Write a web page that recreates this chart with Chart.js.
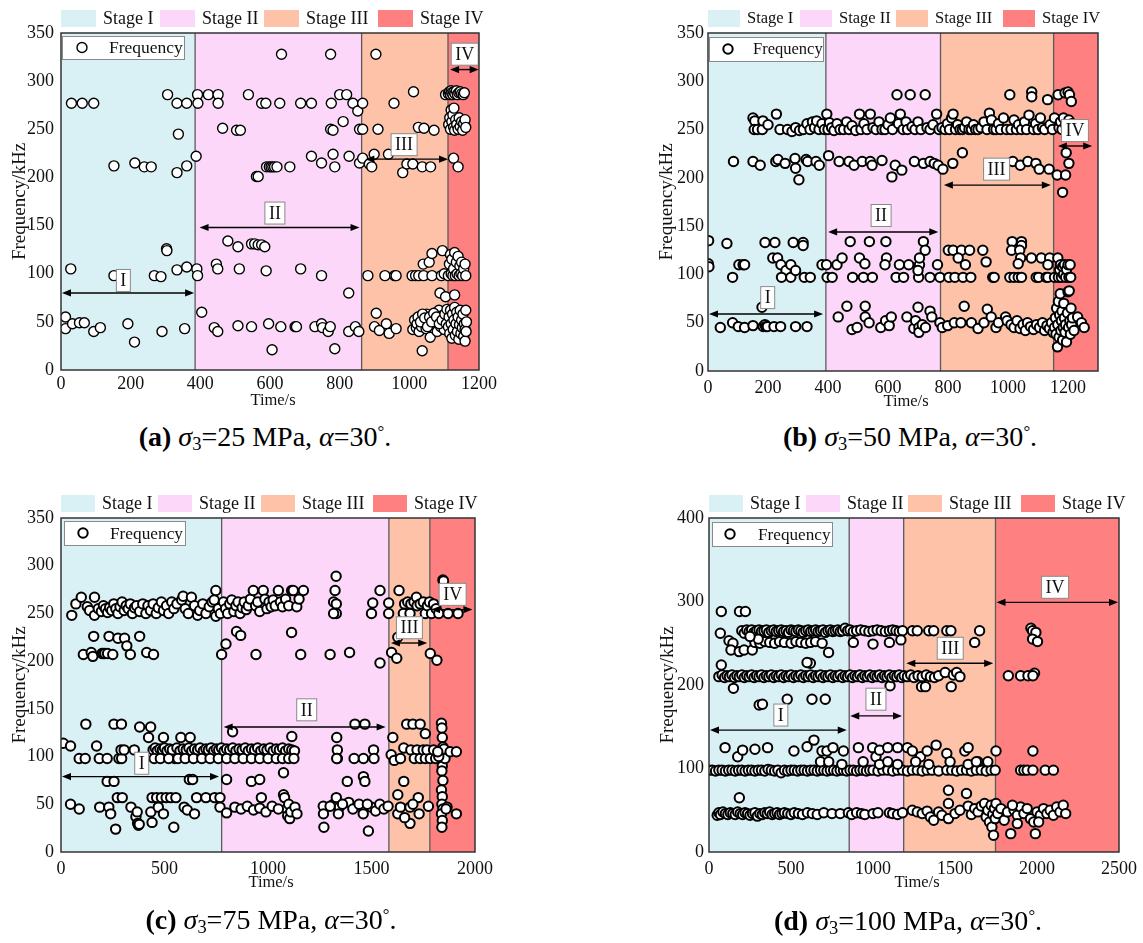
<!DOCTYPE html>
<html><head><meta charset="utf-8">
<script src="https://cdn.jsdelivr.net/npm/chart.js@4.4.0/dist/chart.umd.min.js"></script>
<style>
html,body{margin:0;padding:0;background:#fff;}
body{width:1143px;height:943px;position:relative;overflow:hidden;font-family:"Liberation Serif","Times New Roman",serif;}
canvas{position:absolute;}
.cap{position:absolute;font-size:28px;line-height:32px;color:#000;white-space:nowrap;text-align:center;}
.cap sub{font-size:0.66em;line-height:0;vertical-align:-0.22em;}
.cap sup{font-size:0.6em;line-height:0;vertical-align:0.55em;}
</style></head><body>
<canvas id="ca"></canvas><canvas id="cb"></canvas><canvas id="cc"></canvas><canvas id="cd"></canvas>
<div class="cap" id="capA"></div><div class="cap" id="capB"></div><div class="cap" id="capC"></div><div class="cap" id="capD"></div>
<script>
// ---------------- DATA ----------------
const stageNames = ['Stage I','Stage II','Stage III','Stage IV'];
const arrowLabels = ['I','II','III','IV'];
const captionLetters = ['(a)','(b)','(c)','(d)'];
const sigma3Values = [25,50,75,100];
const alphaValue = 30;

const xTicksA = [0,200,400,600,800,1000,1200];
const xTicksB = [0,200,400,600,800,1000,1200];
const xTicksC = [0,500,1000,1500,2000];
const xTicksD = [0,500,1000,1500,2000,2500];
const yTicksABC = [0,50,100,150,200,250,300,350];
const yTicksD = [0,100,200,300,400];

// stage boundaries (Time/s)
const stagesA = [0,385,863,1111,1200];
const stagesB = [0,393,775,1152,1300];
const stagesC = [0,776,1584,1782,2000];
const stagesD = [0,855,1187,1747,2500];

// arrows: [start, end, frequency, labelTime, labelFreq]
const arrowsA = [[0,385,80,179,93],[395,860,148,614,163],[871,1114,219,985,234],[1114,1202,312,1159,328]];
const arrowsB = [[0,387,59,199,76],[397,771,144,577,161],[783,1146,192.5,962,209],[1163,1284,233,1223,249]];
const arrowsC = [[0,768,79,390,93],[781,1573,131,1187,149],[1589,1774,219,1683,235],[1783,1992,254,1892,270]];
const arrowsD = [[0,846,146,438,164],[855,1183,163,1018,183],[1197,1739,226,1471,244],[1747,2500,299,2110,317]];

// points: [Time/s, Frequency/kHz]
const pointsA = [
[13,55],[13,43],[28,105],[30,277],[33,48],[53,49],[61,277],[67,49],[94,277],[94,40],[113,44],[152,98],[152,212],[192,48],[211,29],[212,215],[239,211],[259,211],[268,98],[287,97],[290,40],[303,126],[304,124],[306,286],[333,104],[333,277],[333,205],[337,245],[355,43],[361,107],[361,277],[361,212],[388,222],[390,105],
[392,98],[392,286],[393,277],[404,60],[423,286],[440,44],[446,110],[450,105],[450,40],[451,286],[451,277],[464,251],[479,134],[504,249],[508,128],[508,46],[512,105],[515,249],[538,286],[547,45],[547,131],[556,131],[561,201],[566,201],[566,130],[576,277],[576,130],[585,128],[588,277],[589,103],[590,211],[596,48],[598,211],[603,211],[606,21],[608,211],[613,211],[620,211],[628,277],[631,45],[633,328],[657,211],[672,45],[676,45],[688,277],[688,105],[719,277],[719,222],[729,45],[748,215],[748,98],[748,48],[751,44],[767,40],[773,45],[774,328],[774,250],[776,277],[781,249],[781,224],[786,211],[786,22],[800,286],[810,258],[820,286],[826,80],[826,40],[827,222],[838,277],[845,45],[852,269],[855,40],[857,250],[857,215],[866,250],[866,277],[866,220],
[881,98],[885,214],[892,211],[899,224],[900,45],[904,328],[905,59],[910,250],[914,41],[930,98],[934,48],[940,224],[942,38],[956,277],[958,98],[962,98],[962,43],[981,205],[993,214],[1008,98],[1010,214],[1010,42],[1012,289],[1015,52],[1018,98],[1020,44],[1022,48],[1026,252],[1027,98],[1028,40],[1030,55],[1035,45],[1037,211],[1037,20],[1040,110],[1041,98],[1042,251],[1045,50],[1048,43],[1050,58],[1055,47],[1057,112],[1060,34],[1061,211],[1062,52],[1065,98],[1065,121],[1068,44],[1071,249],[1072,56],[1075,48],[1080,40],[1082,53],[1085,62],[1088,80],[1090,45],[1092,98],[1095,124],[1097,57],[1100,100],[1100,42],[1104,76],[1104,286],
[1025,55],[1032,50],[1038,58],[1044,54],[1052,45],[1058,55],[1064,50],[1070,59],[1078,55],[1086,48],[1094,52],[1102,58],[1106,48],[1108,63],
[1112,287],[1115,289],[1118,286],[1120,290],[1122,288],[1125,286],[1128,289],[1131,287],[1135,290],[1138,286],[1142,288],[1146,289],[1150,287],[1155,286],[1158,288],[1113,255],[1116,262],[1118,250],[1120,270],[1122,258],[1125,265],[1127,252],[1128,272],[1130,249],[1133,260],[1136,255],[1140,250],[1143,262],[1146,253],[1150,258],[1153,249],[1156,256],[1160,260],[1162,252],[1127,220],[1140,211],
[1112,98],[1115,110],[1118,120],[1120,100],[1122,115],[1125,98],[1127,105],[1130,122],[1132,98],[1135,112],[1137,100],[1140,118],[1143,98],[1145,108],[1148,100],[1150,112],[1153,98],[1156,105],[1160,110],[1162,98],[1130,78],
[1112,45],[1114,55],[1116,38],[1118,62],[1120,48],[1122,33],[1124,58],[1126,42],[1128,52],[1130,65],[1132,36],[1134,48],[1136,60],[1138,40],[1140,55],[1142,32],[1144,47],[1146,62],[1148,38],[1150,52],[1152,44],[1154,58],[1156,35],[1158,48],[1160,42],[1162,62],[1164,50],[1160,30],[1163,40]
];

const pointsB = [
[150,262],[156,259],[154,250],[165,250],[181,250],[183,259],[200,255],[228,266],[240,250],[265,250],[280,248],[292,252],[305,249],[318,250],[330,256],[340,250],[348,258],[355,252],[362,259],[370,250],[380,256],[388,250],
[396,266],[400,250],[405,257],[412,252],[420,249],[430,256],[440,250],[452,250],[462,258],[470,250],[480,254],[492,249],[505,266],[510,250],[520,256],[530,250],[541,266],[550,252],[560,250],[570,258],[580,250],[590,250],[600,255],[608,262],[615,250],[630,286],[635,256],[641,266],[650,250],[660,258],[665,250],[674,286],[680,253],[690,250],[700,258],[710,250],[724,286],[730,252],[740,250],[750,255],[762,266],[770,250],
[780,252],[790,250],[798,256],[805,250],[812,262],[817,266],[825,250],[832,255],[840,250],[848,250],[855,252],[862,258],[870,250],[878,250],[885,255],[892,250],[900,250],[910,252],[920,258],[930,250],[938,267],[945,260],[952,250],[960,250],[968,256],[975,250],[985,262],[995,250],[1006,286],[1010,250],[1020,260],[1028,250],[1035,255],[1045,250],[1055,258],[1062,250],[1070,265],[1079,289],[1079,284],[1085,250],[1092,256],[1100,250],[1108,262],[1115,252],[1122,250],[1132,281],[1140,255],[1148,250],[1155,262],[1167,286],[1170,252],[1175,258],
[1180,250],[1185,262],[1190,288],[1192,255],[1195,250],[1200,289],[1203,260],[1205,286],[1208,252],[1211,279],[1213,256],
[85,217],[150,217],[174,213],[226,217],[233,219],[257,215],[290,220],[292,210],[303,198],[327,219],[332,217],[360,217],[371,213],[402,223],[437,217],[470,217],[487,213],[514,217],[541,217],[547,213],[580,218],[613,201],[624,213],[646,208],[688,217],[718,215],[740,217],[754,215],[767,213],[783,209],[816,215],[848,226],[936,209],[1016,217],[1041,213],[1066,217],[1093,215],[1104,209],[1137,209],[1164,203],[1192,203],[1194,226],[1203,215],[1182,185],
[2,135],[1,111],[3,108],[63,132],[82,97],[103,110],[117,110],[122,110],[190,133],[223,133],[216,117],[232,117],[243,110],[260,104],[245,97],[276,97],[276,110],[292,104],[284,133],[317,133],[317,130],[321,97],[341,97],[380,110],[395,110],[397,97],[414,97],[430,110],[447,117],[474,134],[505,117],[523,111],[482,97],[518,97],[548,97],[538,134],[593,134],[595,117],[590,110],[627,97],[652,97],[638,110],[669,110],[702,97],[705,110],[700,104],[718,134],[724,125],[705,117],[740,97],[765,110],[773,97],
[801,125],[817,125],[845,125],[872,125],[834,117],[858,110],[803,97],[823,97],[850,97],[876,97],[916,125],[927,113],[949,97],[954,97],[1014,134],[1012,125],[1045,134],[1045,130],[1039,125],[1042,117],[1034,111],[1006,97],[1020,97],[1034,97],[1045,97],[1078,117],[1111,117],[1139,117],[1094,97],[1102,97],[1127,97],[1133,97],[1155,97],[1133,110],[1166,117],
[1168,97],[1172,105],[1175,110],[1178,97],[1182,108],[1185,100],[1188,110],[1192,97],[1195,105],[1200,110],[1203,97],[1207,110],[1209,97],
[41,45],[82,50],[101,46],[122,45],[150,47],[180,66],[184,46],[190,48],[193,46],[198,46],[220,46],[242,46],[292,46],[330,46],
[434,56],[463,67],[480,43],[497,45],[524,67],[524,56],[537,50],[576,45],[592,52],[604,47],[611,56],[663,56],[686,44],[692,52],[700,66],[703,45],[703,40],[714,48],[725,45],[740,62],[746,56],[773,50],[781,45],
[799,47],[821,50],[843,50],[854,67],[878,50],[900,44],[920,50],[931,64],[944,56],[960,45],[968,50],[992,56],[997,52],[1010,48],[1020,45],[1030,52],[1040,44],[1050,48],[1058,42],[1065,50],[1075,46],[1085,43],[1095,48],[1105,45],[1115,50],[1122,42],[1130,47],[1138,44],[1145,50],[1150,40],
[1155,45],[1158,55],[1160,38],[1162,65],[1165,25],[1166,48],[1168,72],[1170,35],[1172,58],[1174,80],[1176,42],[1178,52],[1180,62],[1182,32],[1184,45],[1186,70],[1188,55],[1190,40],[1192,48],[1195,30],[1198,60],[1200,82],[1202,45],[1204,83],[1206,52],[1208,38],[1210,65],[1212,48],[1215,55],[1220,42],[1232,56],[1245,50],[1254,45]
];

const pointsC = [
[52,248],[72,260],[98,267],[127,257],[138,253],[162,267],[162,248],[180,255],[195,252],[205,258],[215,255],[225,251],[235,256],[245,253],[255,260],[265,255],[275,250],[285,257],[295,262],[305,253],[315,258],[325,255],[335,260],[345,250],[355,256],[365,258],[380,252],[395,260],[410,250],[420,258],[432,253],[445,260],[460,250],[470,256],[485,262],[495,253],[510,258],[520,250],[535,262],[545,255],[560,260],[583,264],[590,268],[600,255],[615,250],[630,267],[645,258],[660,248],[670,253],[685,260],[700,250],[716,257],[730,262],[740,264],[748,274],[748,247],[760,255],[770,250],
[785,262],[795,255],[805,250],[815,260],[825,264],[835,252],[845,258],[855,262],[865,250],[875,256],[885,262],[895,254],[905,258],[915,265],[929,274],[940,258],[950,262],[960,252],[977,274],[985,265],[995,255],[1005,262],[1015,257],[1025,264],[1035,258],[1050,274],[1060,262],[1070,257],[1085,265],[1100,258],[1114,274],[1122,274],[1139,257],[1150,265],[1171,274],[1317,262],[1324,274],[1329,289],[1330,260],[1330,250],[1317,250],[1506,261],[1500,250],[1541,274],
[1583,261],[1583,250],[1633,274],[1654,250],[1686,250],[1660,260],[1675,262],[1690,260],[1705,262],[1717,267],[1720,258],[1735,260],[1750,262],[1760,250],[1770,258],[1780,262],[1790,250],[1800,260],[1812,255],[1825,250],[1845,285],[1848,284],[1860,270],[1870,250],[1918,250],
[108,207],[146,209],[154,205],[158,226],[198,208],[205,208],[212,208],[225,208],[232,226],[250,207],[275,224],[307,224],[318,216],[335,207],[380,226],[414,209],[447,207],[776,207],[797,218],[848,231],[868,227],[942,207],[1114,230],[1158,207],[1300,207],[1394,209],[1541,198],[1597,209],[1622,203],[1627,225],[1784,208],[1816,201],
[11,114],[46,111],[88,98],[117,98],[120,134],[46,50],[88,45],[172,111],[185,98],[187,47],[223,98],[223,74],[256,74],[231,47],[240,40],[256,134],[292,134],[264,24],[272,57],[296,57],[280,98],[293,98],[290,107],[305,107],[338,47],[354,107],[362,37],[368,42],[370,30],[374,28],[378,29],[380,131],[433,131],[400,98],[423,120],[440,31],[434,42],
[440,57],[462,57],[485,57],[508,57],[530,57],[470,47],[495,40],[495,120],[545,26],[550,107],[550,98],[579,120],[555,57],[595,47],[610,44],[645,40],[655,57],[700,57],[742,57],[620,76],[636,76],[624,120],[768,57],[768,47],
[445,107],[455,109],[465,106],[478,108],[490,107],[500,109],[512,106],[525,108],[538,107],[560,109],[575,106],[590,108],[605,107],[618,109],[632,106],[645,108],[660,107],[672,109],[688,106],[700,108],[712,107],[725,109],[738,106],[750,108],[762,107],[775,109],[788,106],[800,108],[815,107],[830,109],[845,106],[860,108],[875,107],[890,109],[905,106],[920,108],[935,107],[950,109],[965,106],[980,108],[995,107],[1010,109],[1025,106],[1040,108],[1055,107],[1070,109],[1085,106],[1100,108],[1115,107],[1128,106],
[450,98],[480,98],[520,98],[565,98],[600,98],[640,98],[680,98],[720,98],[760,98],[800,98],[840,98],[880,98],[920,98],[960,98],[1000,98],[1040,98],[1070,98],[1100,98],[1125,98],
[800,76],[829,126],[920,74],[960,76],[968,57],[1075,83],[1075,60],[1080,57],[1090,45],[1095,38],[1100,50],[1105,35],[1110,42],[1115,121],
[800,41],[840,47],[870,45],[900,48],[930,44],[960,46],[990,42],[1020,48],[1050,45],[1130,47],[1140,40],
[1332,120],[1335,107],[1335,98],[1332,98],[1267,48],[1268,40],[1270,26],[1316,50],[1330,57],[1345,47],[1340,40],[1383,74],[1420,134],[1468,134],[1416,98],[1461,98],[1461,79],[1468,74],[1458,47],[1460,40],[1485,22],[1510,107],[1512,98],[1500,47],[1520,43],[1540,50],[1560,45],[1580,48],[1390,52],[1410,45],[1440,50],[1480,50],[1300,48],[1360,50],
[1603,120],[1595,102],[1610,96],[1627,60],[1627,40],[1640,47],[1640,98],[1670,134],[1700,134],[1735,134],[1656,109],[1690,107],[1720,107],[1656,74],[1686,30],[1686,47],[1707,98],[1735,98],[1726,57],[1730,40],[1660,36],[1700,50],[1750,107],[1760,98],
[1760,124],[1768,107],[1784,98],[1775,48],[1800,107],[1810,98],[1838,135],[1840,130],[1842,120],[1845,110],[1838,100],[1842,90],[1840,85],[1845,75],[1838,65],[1842,58],[1840,50],[1845,45],[1838,40],[1842,33],[1840,26],[1835,106],[1850,108],[1855,98],[1880,105],[1910,105],[1865,47],[1910,40],[1860,45],[1825,100],[1820,105]
];

const pointsD = [
[75,288],[186,288],[222,288],[69,262],[122,253],[146,250],[134,242],[184,240],[214,242],[264,242],
[200,265],[215,262],[230,266],[245,264],[260,266],[275,263],[290,265],[305,266],[320,264],[335,265],[350,266],[365,263],[380,265],[395,266],[410,264],[425,265],[440,266],[455,264],[470,265],[485,263],[500,266],[515,265],[530,264],[545,266],[560,265],[575,263],[590,265],[605,266],[620,264],[635,265],[650,266],[665,264],[680,265],[695,266],[710,263],[725,265],[740,266],[755,264],[770,265],[785,266],[800,264],[815,265],[830,268],[845,265],[860,266],[880,264],[900,265],[925,266],[950,265],[975,264],[1000,265],[1025,266],[1050,265],[1075,264],[1100,265],[1120,266],[1140,265],[1160,264],[1180,265],[1240,265],[1270,265],[1340,265],[1370,265],[1450,265],[1475,265],[1650,265],
[280,251],[310,250],[340,252],[370,251],[400,250],[430,252],[460,251],[500,250],[530,252],[560,251],[590,250],[620,251],[650,252],[690,250],[729,239],[618,226],[880,251],[1000,249],[1100,251],[1170,254],[1620,251],[300,255],[250,258],
[1963,268],[1973,265],[1993,263],[1973,255],[2003,252],
[60,210],[75,224],[80,212],[95,209],[110,211],[125,210],[140,212],[149,196],[155,209],[170,211],[185,210],[200,212],[215,209],[230,211],[245,210],[260,212],[275,209],[290,211],[306,176],[326,177],[305,210],[320,212],[335,209],[350,211],[365,210],[380,212],[395,209],[410,211],[425,210],[440,212],[455,209],[470,211],[477,183],[485,210],[500,212],[515,209],[530,211],[545,210],[560,212],[575,209],[590,211],[598,227],[605,210],[620,212],[628,183],[635,209],[650,211],[665,210],[680,212],[695,209],[709,183],[710,211],[725,210],[740,212],[755,209],[770,211],[785,210],[800,212],[815,209],[830,211],[845,210],[860,212],[875,209],[890,211],[905,210],[920,212],[935,209],[950,211],[965,210],[980,212],[995,209],[1010,211],[1025,210],[1040,212],[1055,209],[1070,211],[1085,210],[1104,199],[1100,212],[1115,209],[1130,211],[1145,210],[1160,212],[1175,209],[1190,211],[1210,210],[1230,212],[1250,209],[1275,211],[1296,198],[1320,198],[1300,210],[1325,212],[1350,210],[1375,209],[1400,211],[1440,215],[1477,198],[1490,212],[1510,215],[1530,210],[1825,211],[1900,211],[1945,211],[1985,214],[1975,211],
[0,98],[20,98],[40,97],[60,98],[80,98],[100,97],[120,98],[140,98],[160,97],[180,98],[200,98],[220,97],[240,98],[260,98],[280,97],[300,98],[320,98],[340,97],[360,99],[380,98],[400,97],[420,98],[440,95],[460,98],[480,97],[500,98],[520,98],[540,97],[560,98],[580,98],[600,97],[620,98],[640,98],[660,97],[680,98],[700,98],[720,97],[740,98],[760,98],[780,97],[800,98],[820,98],[840,97],[860,98],[880,98],[900,97],[920,98],[940,98],[960,97],[980,98],[1000,98],[1030,97],[1060,98],[1090,98],[1120,97],[1150,98],[1180,98],[1210,97],[1240,98],[1270,98],[1300,97],[1330,98],[1360,98],[1400,97],[1450,98],[1480,98],[1510,97],[1540,98],[1570,98],[1600,97],[1630,98],[1660,98],[1690,97],[1720,98],[1745,98],[1900,98],[1920,98],[1940,98],[1975,98],[2050,98],[2100,98],
[98,125],[175,114],[205,122],[280,123],[357,125],[518,121],[598,126],[640,134],[689,121],[719,121],[756,125],[820,121],[911,125],[998,125],[1018,114],[1040,122],[1090,125],[1150,125],[1210,125],[1240,121],[1290,114],[1330,121],[1385,128],[1450,118],[1560,121],[1580,125],[1750,121],[1975,121],[1640,108],
[680,108],[730,108],[810,105],[1040,105],[1090,108],[1150,105],[1470,108],[1580,105],[1630,108],[1700,108],[940,108],[1340,105],[1260,108],
[50,44],[60,47],[70,45],[85,48],[100,46],[115,45],[130,47],[145,46],[160,45],[175,48],[185,65],[190,46],[205,45],[220,47],[235,46],[250,44],[265,46],[280,47],[295,43],[310,46],[325,45],[340,47],[355,46],[370,48],[385,45],[400,46],[415,47],[430,45],[445,46],[460,47],[480,46],[500,45],[520,47],[545,46],[570,45],[600,47],[630,46],[660,45],[700,47],[750,46],[800,46],[850,47],[870,45],[900,47],[930,46],[950,45],[1000,46],[1030,47],[1100,47],[1120,46],[1150,45],[1180,47],
[1240,50],[1270,48],[1300,46],[1330,49],[1350,42],[1370,38],[1400,48],[1420,44],[1460,74],[1460,58],[1460,40],[1500,46],[1530,50],[1570,70],[1580,55],[1600,45],[1620,52],[1640,48],[1660,55],[1680,58],[1690,42],[1700,50],[1710,36],[1720,56],[1725,30],[1730,45],[1735,20],[1740,52],[1745,40],[1750,58],[1760,46],[1780,52],[1800,38],[1820,48],[1840,22],[1860,50],[1880,44],[1900,54],[1920,46],[1940,52],[1960,40],[1990,22],[2000,48],[2020,44],[2040,52],[2060,46],[2080,50],[2100,44],[2120,54],[2140,48],[2160,56],[2175,46],[1850,56],[1880,34],[1980,36],[2010,36]
];

// ---------------- STYLE / LAYOUT ----------------
const FONT = '"Liberation Serif","Times New Roman",serif';
const stageColors = ['#d9f0f4','#fdd7f9','#fdc2a8','#fe8080'];

function makePanel(id, L, points, stages, arrows, xTicks, yTicks, xMax, yMax) {
  const cv = document.getElementById(id);
  cv.width = L.w; cv.height = L.h;
  cv.style.left = L.left + 'px'; cv.style.top = L.top + 'px';
  cv.style.width = L.w + 'px'; cv.style.height = L.h + 'px';

  const deco = {
    id: 'deco_' + id,
    beforeDatasetsDraw(chart) {
      const ctx = chart.ctx, a = chart.chartArea, x = chart.scales.x;
      ctx.save();
      for (let i = 0; i < 4; i++) {
        const x1 = x.getPixelForValue(stages[i]), x2 = x.getPixelForValue(stages[i + 1]);
        ctx.fillStyle = stageColors[i];
        ctx.fillRect(x1, a.top, x2 - x1, a.bottom - a.top);
      }
      ctx.strokeStyle = '#5a5a5a'; ctx.lineWidth = 1.3;
      for (let i = 1; i < 4; i++) {
        const px = x.getPixelForValue(stages[i]);
        ctx.beginPath(); ctx.moveTo(px, a.top); ctx.lineTo(px, a.bottom); ctx.stroke();
      }
      ctx.restore();
    },
    afterDatasetsDraw(chart) {
      const ctx = chart.ctx, a = chart.chartArea, x = chart.scales.x, y = chart.scales.y;
      ctx.save();
      // arrows
      ctx.strokeStyle = '#000'; ctx.fillStyle = '#000'; ctx.lineWidth = 1.4;
      arrows.forEach((ar, i) => {
        const x1 = x.getPixelForValue(ar[0]) + 1, x2 = x.getPixelForValue(ar[1]) - 1, py = y.getPixelForValue(ar[2]);
        ctx.beginPath(); ctx.moveTo(x1 + 4, py); ctx.lineTo(x2 - 4, py); ctx.stroke();
        const hl = 9, hw = 3.6;
        ctx.beginPath(); ctx.moveTo(x1, py); ctx.lineTo(x1 + hl, py - hw); ctx.lineTo(x1 + hl, py + hw); ctx.closePath(); ctx.fill();
        ctx.beginPath(); ctx.moveTo(x2, py); ctx.lineTo(x2 - hl, py - hw); ctx.lineTo(x2 - hl, py + hw); ctx.closePath(); ctx.fill();
      });
      // arrow labels
      ctx.font = L.labFont + 'px ' + FONT;
      ctx.textAlign = 'center'; ctx.textBaseline = 'middle';
      arrows.forEach((ar, i) => {
        const lx = x.getPixelForValue(ar[3]), ly = y.getPixelForValue(ar[4]);
        const tw = ctx.measureText(arrowLabels[i]).width;
        const bw = tw + 8, bh = 22;
        ctx.fillStyle = '#fff'; ctx.fillRect(lx - bw / 2, ly - bh / 2, bw, bh);
        ctx.strokeStyle = '#8a8a8a'; ctx.lineWidth = 1; ctx.strokeRect(lx - bw / 2, ly - bh / 2, bw, bh);
        ctx.fillStyle = '#111'; ctx.fillText(arrowLabels[i], lx, ly + 1);
      });
      // inner legend
      const lb = L.legBox;
      ctx.fillStyle = '#fff';
      ctx.fillRect(a.left + lb[0], a.top + lb[1], lb[2], lb[3]);
      ctx.strokeStyle = '#8a8a8a'; ctx.lineWidth = 1;
      ctx.strokeRect(a.left + lb[0] + 0.5, a.top + lb[1] + 0.5, lb[2], lb[3]);
      const cy = a.top + lb[1] + lb[3] / 2;
      ctx.beginPath(); ctx.arc(a.left + L.legCircle, cy, L.pr, 0, Math.PI * 2);
      ctx.fillStyle = '#fff'; ctx.fill(); ctx.strokeStyle = '#000'; ctx.lineWidth = L.pb; ctx.stroke();
      ctx.fillStyle = '#111'; ctx.font = L.legFont + 'px ' + FONT; ctx.textAlign = 'left'; ctx.textBaseline = 'middle';
      ctx.fillText('Frequency', a.left + L.legText, cy + 1);
      // frame
      ctx.strokeStyle = '#333'; ctx.lineWidth = 1.5;
      ctx.strokeRect(a.left, a.top, a.right - a.left, a.bottom - a.top);
      // stage legend above
      ctx.font = L.stageFont + 'px ' + FONT; ctx.textBaseline = 'middle';
      for (let i = 0; i < 4; i++) {
        const bx = a.left + L.stageLeg[i], by = a.top - 23;
        ctx.fillStyle = stageColors[i]; ctx.fillRect(bx, by, L.stageBoxW, 17);
        ctx.fillStyle = '#111'; ctx.fillText(stageNames[i], bx + L.stageBoxW + 7, by + 9);
      }
      // axis titles
      ctx.font = '16.5px ' + FONT; ctx.textAlign = 'center'; ctx.textBaseline = 'middle';
      ctx.fillText('Time/s', (a.left + a.right) / 2 + 3, a.bottom + 31);
      ctx.save();
      ctx.translate(a.left - 41, (a.top + a.bottom) / 2);
      ctx.rotate(-Math.PI / 2);
      ctx.font = '19px ' + FONT;
      ctx.fillText('Frequency/kHz', 0, 0);
      ctx.restore();
      ctx.restore();
    }
  };

  new Chart(cv, {
    type: 'scatter',
    data: { datasets: [{
      label: 'Frequency',
      data: points.map(p => ({ x: p[0], y: p[1] })),
      pointRadius: L.pr, pointHoverRadius: L.pr, pointBorderWidth: L.pb,
      pointBackgroundColor: '#fff', pointBorderColor: '#000', showLine: false
    }] },
    options: {
      responsive: false, animation: false, events: [], devicePixelRatio: 1,
      layout: { padding: { left: 0, top: L.padT, right: L.padR, bottom: 0 } },
      plugins: { legend: { display: false }, tooltip: { enabled: false } },
      scales: {
        x: {
          type: 'linear', min: 0, max: xMax,
          afterBuildTicks: s => { s.ticks = xTicks.map(v => ({ value: v })); },
          afterFit: s => { s.height = L.xH; },
          grid: { display: false, drawTicks: false }, border: { display: false },
          ticks: { padding: L.xPad, autoSkip: false, maxRotation: 0, color: '#111', font: { family: FONT, size: 18 }, callback: v => String(v) }
        },
        y: {
          type: 'linear', min: 0, max: yMax,
          afterBuildTicks: s => { s.ticks = yTicks.map(v => ({ value: v })); },
          afterFit: s => { s.width = L.yW; },
          grid: { display: false, drawTicks: false }, border: { display: false },
          ticks: { padding: L.yPad, color: '#111', font: { family: FONT, size: 18 }, callback: v => String(v) }
        }
      }
    },
    plugins: [deco]
  });
}

makePanel('ca', {left:0, top:0, w:500, h:415, padT:33, padR:20, yW:61, xH:45, xPad:3, yPad:7, pr:5.0, pb:1.4,
  legBox:[1,3,122,23], legCircle:21, legText:48, legFont:17.5, labFont:18, stageLeg:[0,99,203,317], stageFont:18, stageBoxW:35},
  pointsA, stagesA, arrowsA, xTicksA, yTicksABC, 1200, 350);
makePanel('cb', {left:571, top:0, w:572, h:415, padT:33, padR:45, yW:137, xH:44, xPad:6, yPad:4, pr:4.7, pb:2.0,
  legBox:[1,4,114,24], legCircle:20, legText:45, legFont:16.5, labFont:18, stageLeg:[0,92,188,295], stageFont:16.5, stageBoxW:32},
  pointsB, stagesB, arrowsB, xTicksB, yTicksABC, 1300, 350);
makePanel('cc', {left:0, top:465, w:500, h:440, padT:53, padR:25, yW:61, xH:53, xPad:6, yPad:7, pr:4.7, pb:2.0,
  legBox:[3,3,121,24], legCircle:22, legText:49, legFont:17.3, labFont:18, stageLeg:[0,97,200,312], stageFont:18, stageBoxW:34},
  pointsC, stagesC, arrowsC, xTicksC, yTicksABC, 2000, 350);
makePanel('cd', {left:571, top:465, w:572, h:440, padT:53, padR:20, yW:138, xH:53, xPad:6, yPad:5, pr:4.7, pb:2.0,
  legBox:[3,4,120,24], legCircle:21, legText:49, legFont:17.2, labFont:18, stageLeg:[0,97,199,312], stageFont:18, stageBoxW:34},
  pointsD, stagesD, arrowsD, xTicksD, yTicksD, 2500, 400);

// captions
const capPos = [[265,446],[910,446],[271,929],[908,930]];
['capA','capB','capC','capD'].forEach((id, i) => {
  const el = document.getElementById(id);
  el.innerHTML = '<b>' + captionLetters[i] + '</b> <i>σ</i><sub>3</sub>=' + sigma3Values[i] + ' MPa, <i>α</i>=' + alphaValue + '<sup>°</sup>.';
  el.style.left = (capPos[i][0] - 200) + 'px';
  el.style.width = '400px';
  el.style.top = (capPos[i][1] - 25) + 'px';
});
</script>
</body></html>
